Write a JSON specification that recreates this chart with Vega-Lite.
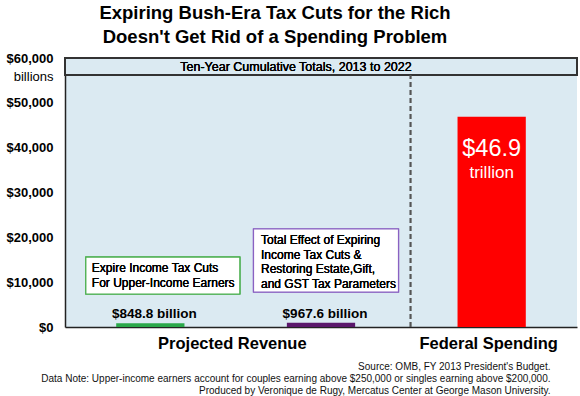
{
  "$schema": "https://vega.github.io/schema/vega-lite/v6.json",
  "width": 512,
  "height": 269,
  "autosize": {"type": "none"},
  "padding": {"left": 65, "top": 58, "right": 3, "bottom": 69},
  "background": "white",
  "config": {
    "font": "Liberation Sans",
    "view": {"fill": "#dbeaf2", "stroke": null}
  },
  "title": {
    "text": ["Expiring Bush-Era Tax Cuts for the Rich", "Doesn't Get Rid of a Spending Problem"],
    "fontSize": 18.5,
    "fontWeight": "bold",
    "color": "#000000",
    "lineHeight": 24,
    "anchor": "middle",
    "dx": -46,
    "offset": 6
  },
  "data": {
    "values": [
      {"item": "Expire Income Tax Cuts", "value": 848.8, "label": "$848.8 billion", "big": "", "unit": ""},
      {"item": "Total Effect", "value": 967.6, "label": "$967.6 billion", "big": "", "unit": ""},
      {"item": "Federal Spending", "value": 46900, "label": "", "big": "$46.9", "unit": "trillion"}
    ]
  },
  "encoding": {
    "x": {
      "field": "item",
      "type": "nominal",
      "sort": null,
      "scale": {"domain": ["Expire Income Tax Cuts", "Total Effect", "Federal Spending"], "paddingInner": 0.6, "paddingOuter": 0.3},
      "axis": {
        "title": ["Source: OMB, FY 2013 President's Budget.", "Data Note: Upper-income earners account for couples earning above $250,000 or singles earning above $200,000.", "Produced by Veronique de Rugy, Mercatus Center at George Mason University."],
        "titleFontSize": 10,
        "titleFontWeight": "normal",
        "titleColor": "#111111",
        "titleLineHeight": 12,
        "titleAlign": "right",
        "titleBaseline": "top",
        "titleX": 485,
        "titleY": 34.5,
        "labelExpr": "datum.value == 'Total Effect' ? '' : (datum.value == 'Expire Income Tax Cuts' ? 'Projected Revenue' : 'Federal Spending')",
        "labelOffset": {"condition": {"test": "datum.value == 'Expire Income Tax Cuts'", "value": 82}, "value": -3},
        "labelAngle": 0,
        "labelFontSize": 16.5,
        "labelFontWeight": "bold",
        "labelColor": "#000000",
        "labelPadding": 8.5,
        "labelBaseline": "top",
        "ticks": false,
        "tickSize": 0,
        "domainColor": "#222222",
        "domainWidth": 1.5,
        "grid": false
      }
    }
  },
  "layer": [
    {
      "mark": {"type": "rect", "fill": "#dbeaf2", "stroke": "#333333", "strokeWidth": 2},
      "encoding": {
        "x": {"value": 0},
        "x2": {"value": "width"},
        "y": {"datum": 60000, "type": "quantitative"},
        "y2": {"datum": 56200}
      }
    },
    {
      "mark": {"type": "text", "fontSize": 12.5, "color": "#000000", "baseline": "middle", "dx": -25},
      "encoding": {
        "x": {"datum": "Total Effect"},
        "y": {"datum": 58100, "type": "quantitative"},
        "text": {"value": "Ten-Year Cumulative Totals, 2013 to 2022"}
      }
    },
    {
      "mark": {"type": "rule", "stroke": "#555555", "strokeWidth": 1.5, "strokeDash": [5, 3], "xOffset": -47},
      "encoding": {
        "x": {"datum": "Federal Spending", "bandPosition": 0},
        "y": {"datum": 0, "type": "quantitative"},
        "y2": {"datum": 56200}
      }
    },
    {
      "mark": {"type": "bar"},
      "encoding": {
        "y": {
          "field": "value",
          "type": "quantitative",
          "scale": {"domain": [0, 60000], "nice": false},
          "axis": {
            "values": [0, 10000, 20000, 30000, 40000, 50000, 60000],
            "format": "$,d",
            "labelFontSize": 13,
            "labelFontWeight": "bold",
            "labelColor": "#000000",
            "labelPadding": 12,
            "ticks": false,
            "tickSize": 0,
            "domainColor": "#222222",
            "domainWidth": 1.5,
            "gridColor": "#b9cbd5",
            "gridWidth": 1,
            "title": "billions",
            "titleAngle": 0,
            "titleAlign": "right",
            "titleBaseline": "middle",
            "titleFontSize": 13,
            "titleFontWeight": "normal",
            "titleColor": "#000000",
            "titleX": -12,
            "titleY": 18
          }
        },
        "color": {
          "field": "item",
          "type": "nominal",
          "scale": {"domain": ["Expire Income Tax Cuts", "Total Effect", "Federal Spending"], "range": ["#2aa84a", "#5a176b", "#ff0000"]},
          "legend": null
        }
      }
    },
    {
      "transform": [{"filter": "datum.label != ''"}],
      "mark": {"type": "text", "fontSize": 13.5, "fontWeight": "bold", "color": "#000000", "baseline": "bottom", "dy": -2, "dx": 4},
      "encoding": {
        "y": {"field": "value", "type": "quantitative"},
        "text": {"field": "label"}
      }
    },
    {
      "transform": [{"filter": "datum.big != ''"}],
      "mark": {"type": "text", "fontSize": 23.5, "color": "#ffffff", "baseline": "middle", "dy": 32},
      "encoding": {
        "y": {"field": "value", "type": "quantitative"},
        "text": {"field": "big"}
      }
    },
    {
      "transform": [{"filter": "datum.unit != ''"}],
      "mark": {"type": "text", "fontSize": 17, "color": "#ffffff", "baseline": "middle", "dy": 56},
      "encoding": {
        "y": {"field": "value", "type": "quantitative"},
        "text": {"field": "unit"}
      }
    },
    {
      "mark": {"type": "bar", "fill": "#ffffff", "stroke": "#4caf50", "strokeWidth": 1.2, "width": 154, "xOffset": 12.5},
      "encoding": {
        "x": {"datum": "Expire Income Tax Cuts"},
        "y": {"datum": 15600, "type": "quantitative"},
        "y2": {"datum": 7360}
      }
    },
    {
      "mark": {"type": "bar", "fill": "#ffffff", "stroke": "#8a62c2", "strokeWidth": 1.2, "width": 145, "xOffset": 5},
      "encoding": {
        "x": {"datum": "Total Effect"},
        "y": {"datum": 21860, "type": "quantitative"},
        "y2": {"datum": 7810}
      }
    },
    {
      "mark": {"type": "text", "fontSize": 12, "color": "#000000", "align": "left", "baseline": "middle", "lineHeight": 15, "dx": -58.5},
      "encoding": {
        "x": {"datum": "Expire Income Tax Cuts"},
        "y": {"datum": 13160, "type": "quantitative"},
        "text": {"value": ["Expire Income Tax Cuts", "For Upper-Income Earners"]}
      }
    },
    {
      "mark": {"type": "text", "fontSize": 12, "color": "#000000", "align": "left", "baseline": "middle", "lineHeight": 14.5, "dx": -60},
      "encoding": {
        "x": {"datum": "Total Effect"},
        "y": {"datum": 19405, "type": "quantitative"},
        "text": {"value": ["Total Effect of Expiring", "Income Tax Cuts &", "Restoring Estate,Gift,", "and GST Tax Parameters"]}
      }
    }
  ]
}
